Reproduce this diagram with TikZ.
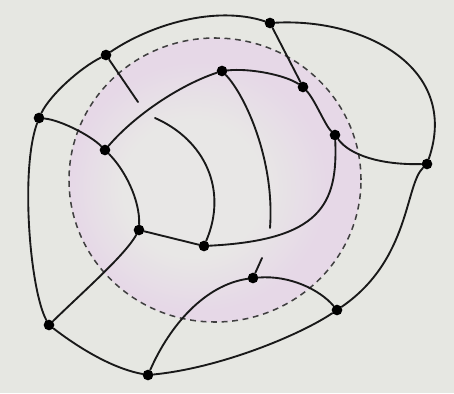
\documentclass[tikz,border=0pt]{standalone}
\usepackage{tikz}
\definecolor{paper}{HTML}{E6E7E2}
\definecolor{rim}{HTML}{E6D8E7}
\definecolor{core}{HTML}{E8E7E6}
\pgfdeclareradialshading{rimglow}{\pgfpoint{-5bp}{-2bp}}{color(0bp)=(core); color(12bp)=(core); color(22bp)=(rim); color(25bp)=(rim); color(50bp)=(rim)}

\begin{document}
\begin{tikzpicture}[x=0.03cm,y=-0.03cm,
dot/.style={circle,fill=black,inner sep=0pt,minimum size=3.2mm},
edge/.style={draw=black!90,line width=1.6pt,line cap=round},
rimline/.style={draw=black!75,line width=1.3pt,dash pattern=on 5pt off 4pt}]
\fill[paper] (0,0) rectangle (454,393);
\useasboundingbox (0,0) rectangle (454,393);
\shade[shading=rimglow] (215,180) ellipse [x radius=4.38cm,y radius=4.26cm];
\draw[rimline] (215,180) ellipse [x radius=4.38cm,y radius=4.26cm];
\node[dot] (a) at (106,55) {};
\node[dot] (b) at (39,118) {};
\node[dot] (c) at (105,150) {};
\node[dot] (d) at (222,71) {};
\node[dot] (e) at (270,23) {};
\node[dot] (f) at (303,87) {};
\node[dot] (g) at (335,135) {};
\node[dot] (h) at (427,164) {};
\node[dot] (i) at (139,230) {};
\node[dot] (j) at (204,246) {};
\node[dot] (k) at (49,325) {};
\node[dot] (l) at (148,375) {};
\node[dot] (m) at (253,278) {};
\node[dot] (n) at (337,310) {};
\coordinate (a1) at (138,102);
\coordinate (s1) at (155,118);
\coordinate (d1) at (270,228);
\coordinate (m1) at (262,258);
\draw[edge] (b) .. controls (50,95) and (80,68) .. (a);
\draw[edge] (a) .. controls (150,25) and (215,5) .. (e);
\draw[edge] (e) .. controls (365,18) and (460,68) .. (h);
\draw[edge] (h) .. controls (405,185) and (410,260) .. (n);
\draw[edge] (n) .. controls (300,335) and (220,368) .. (l);
\draw[edge] (l) .. controls (110,368) and (75,345) .. (k);
\draw[edge] (k) .. controls (30,290) and (20,170) .. (b);
\draw[edge] (b) .. controls (60,120) and (90,135) .. (c);
\draw[edge] (c) .. controls (135,115) and (180,85) .. (d);
\draw[edge] (a) -- (a1);
\draw[edge] (s1) .. controls (205,140) and (228,190) .. (j);
\draw[edge] (d) .. controls (245,95) and (275,160) .. (d1);
\draw[edge] (d) .. controls (250,68) and (285,75) .. (f);
\draw[edge] (e) -- (f);
\draw[edge] (f) .. controls (315,100) and (325,125) .. (g);
\draw[edge] (g) .. controls (350,155) and (380,165) .. (h);
\draw[edge] (g) .. controls (338,205) and (320,240) .. (j);
\draw[edge] (c) .. controls (125,170) and (140,200) .. (i);
\draw[edge] (i) -- (j);
\draw[edge] (i) .. controls (125,255) and (85,290) .. (k);
\draw[edge] (m) .. controls (205,285) and (170,325) .. (l);
\draw[edge] (m) .. controls (290,275) and (320,290) .. (n);
\draw[edge] (m) -- (m1);
\end{tikzpicture}
\end{document}
